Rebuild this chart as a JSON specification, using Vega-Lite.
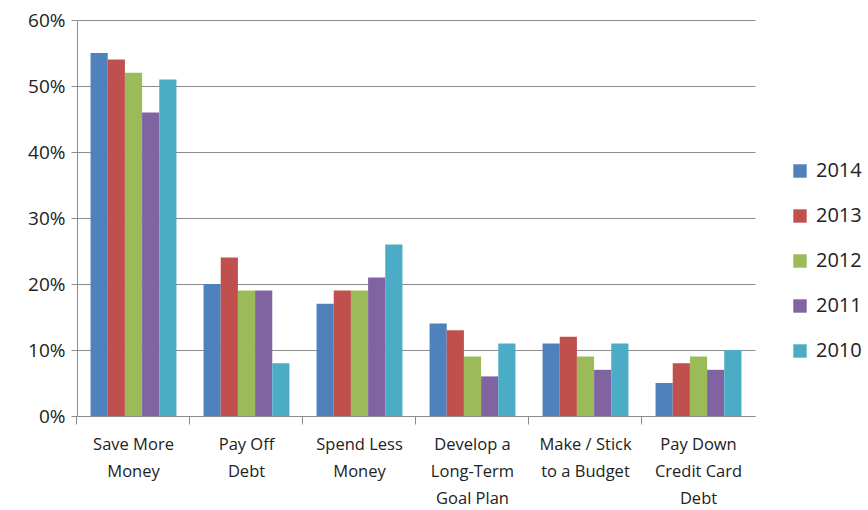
{
  "$schema": "https://vega.github.io/schema/vega-lite/v6.json",
  "width": 678,
  "height": 396,
  "autosize": {"type": "none"},
  "padding": {"left": 77, "top": 20, "right": 113, "bottom": 94},
  "background": "white",
  "config": {"view": {"stroke": null}, "font": "Open Sans"},
  "data": {
    "values": [
      {"goal": "Save More Money", "year": "2014", "share": 0.55},
      {"goal": "Save More Money", "year": "2013", "share": 0.54},
      {"goal": "Save More Money", "year": "2012", "share": 0.52},
      {"goal": "Save More Money", "year": "2011", "share": 0.46},
      {"goal": "Save More Money", "year": "2010", "share": 0.51},
      {"goal": "Pay Off Debt", "year": "2014", "share": 0.20},
      {"goal": "Pay Off Debt", "year": "2013", "share": 0.24},
      {"goal": "Pay Off Debt", "year": "2012", "share": 0.19},
      {"goal": "Pay Off Debt", "year": "2011", "share": 0.19},
      {"goal": "Pay Off Debt", "year": "2010", "share": 0.08},
      {"goal": "Spend Less Money", "year": "2014", "share": 0.17},
      {"goal": "Spend Less Money", "year": "2013", "share": 0.19},
      {"goal": "Spend Less Money", "year": "2012", "share": 0.19},
      {"goal": "Spend Less Money", "year": "2011", "share": 0.21},
      {"goal": "Spend Less Money", "year": "2010", "share": 0.26},
      {"goal": "Develop a Long-Term Goal Plan", "year": "2014", "share": 0.14},
      {"goal": "Develop a Long-Term Goal Plan", "year": "2013", "share": 0.13},
      {"goal": "Develop a Long-Term Goal Plan", "year": "2012", "share": 0.09},
      {"goal": "Develop a Long-Term Goal Plan", "year": "2011", "share": 0.06},
      {"goal": "Develop a Long-Term Goal Plan", "year": "2010", "share": 0.11},
      {"goal": "Make / Stick to a Budget", "year": "2014", "share": 0.11},
      {"goal": "Make / Stick to a Budget", "year": "2013", "share": 0.12},
      {"goal": "Make / Stick to a Budget", "year": "2012", "share": 0.09},
      {"goal": "Make / Stick to a Budget", "year": "2011", "share": 0.07},
      {"goal": "Make / Stick to a Budget", "year": "2010", "share": 0.11},
      {"goal": "Pay Down Credit Card Debt", "year": "2014", "share": 0.05},
      {"goal": "Pay Down Credit Card Debt", "year": "2013", "share": 0.08},
      {"goal": "Pay Down Credit Card Debt", "year": "2012", "share": 0.09},
      {"goal": "Pay Down Credit Card Debt", "year": "2011", "share": 0.07},
      {"goal": "Pay Down Credit Card Debt", "year": "2010", "share": 0.10}
    ]
  },
  "mark": {"type": "bar"},
  "encoding": {
    "x": {
      "field": "goal",
      "type": "nominal",
      "sort": null,
      "scale": {"paddingInner": 0.24, "paddingOuter": 0.12},
      "axis": {
        "title": null,
        "labelAngle": 0,
        "labelFontSize": 16.5,
        "labelColor": "#222222",
        "labelLineHeight": 27,
        "labelPadding": 12,
        "labelBaseline": "top",
        "domainColor": "#8c8c8c",
        "tickColor": "#8c8c8c",
        "tickSize": 8,
        "bandPosition": -0.158,
        "labelExpr": "datum.value == 'Save More Money' ? ['Save More', 'Money'] : datum.value == 'Pay Off Debt' ? ['Pay Off', 'Debt'] : datum.value == 'Spend Less Money' ? ['Spend Less', 'Money'] : datum.value == 'Develop a Long-Term Goal Plan' ? ['Develop a', 'Long-Term', 'Goal Plan'] : datum.value == 'Make / Stick to a Budget' ? ['Make / Stick', 'to a Budget'] : ['Pay Down', 'Credit Card', 'Debt']"
      }
    },
    "xOffset": {
      "field": "year",
      "type": "nominal",
      "sort": ["2014", "2013", "2012", "2011", "2010"],
      "scale": {"paddingInner": 0, "paddingOuter": 0}
    },
    "y": {
      "field": "share",
      "type": "quantitative",
      "scale": {"domain": [0, 0.6], "nice": false},
      "axis": {
        "title": null,
        "format": ".0%",
        "values": [0, 0.1, 0.2, 0.3, 0.4, 0.5, 0.6],
        "labelFontSize": 19,
        "labelColor": "#222222",
        "labelPadding": 6,
        "domainColor": "#8c8c8c",
        "tickColor": "#8c8c8c",
        "tickSize": 6,
        "grid": true,
        "gridColor": "#8c8c8c",
        "gridWidth": 1
      }
    },
    "color": {
      "field": "year",
      "type": "nominal",
      "sort": ["2014", "2013", "2012", "2011", "2010"],
      "scale": {
        "domain": ["2014", "2013", "2012", "2011", "2010"],
        "range": ["#4F81BD", "#C0504D", "#9BBB59", "#8064A2", "#4BACC6"]
      },
      "legend": {
        "title": null,
        "orient": "none",
        "legendX": 713,
        "legendY": 141,
        "symbolType": "square",
        "symbolSize": 180,
        "symbolStrokeWidth": 0,
        "labelFontSize": 20,
        "labelColor": "#222222",
        "rowPadding": 25,
        "labelOffset": 6
      }
    }
  }
}
